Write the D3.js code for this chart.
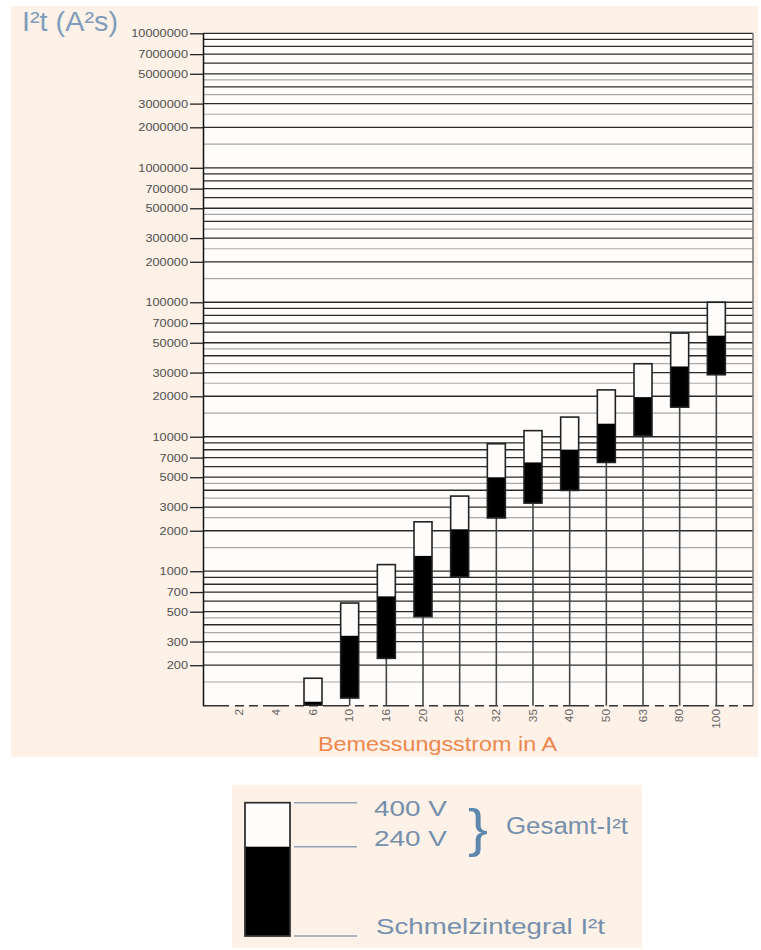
<!DOCTYPE html>
<html><head><meta charset="utf-8">
<script src="https://cdn.jsdelivr.net/npm/d3@7"></script>
<style>body{margin:0;background:#fff}</style>
</head><body>
<svg id="c" width="761" height="950"></svg>
<script>
// ---- data ----
const categories = ["2","4","6","10","16","20","25","32","35","40","50","63","80","100"];
const melt     = [null,null,101,114,225,459,910,2490,3210,3990,6440,10200,16600,28900];   // Schmelzintegral I²t
const total240 = [null,null,107,331,650,1300,2050,4980,6440,8000,12500,19700,33300,56400]; // Gesamt-I²t 240 V
const total400 = [null,null,160,580,1120,2330,3620,8870,11100,14000,22300,34900,59000,100000]; // Gesamt-I²t 400 V
const yTickValues = [1e7,7e6,5e6,3e6,2e6,1e6,7e5,5e5,3e5,2e5,1e5,7e4,5e4,3e4,2e4,1e4,7000,5000,3000,2000,1000,700,500,300,200];
const gridMultipliers = [1,1.5,2,2.5,3,3.5,4,4.5,5,6,7,8,9];

const svg = d3.select("#c");
const L = 203, R = 753, T = 33.3, B = 705.7;
const peach = "#fdf1e8";

// panels
svg.append("rect").attr("x",11).attr("y",6).attr("width",747).attr("height",751).attr("fill",peach);
svg.append("rect").attr("x",232).attr("y",785).attr("width",410).attr("height",163).attr("fill",peach);
svg.append("rect").attr("x",L).attr("y",T).attr("width",R-L).attr("height",B-T).attr("fill","#fffdfb");

const y = d3.scaleLog().domain([100,1e7]).range([B,T]);
const x = d3.scalePoint().domain(categories).range([L,R]).padding(1);

// gridlines
const grid = [];
for (let k = 2; k <= 6; k++) gridMultipliers.forEach(m => { const v = m*Math.pow(10,k); if (v > 100) grid.push({v, major: Number.isInteger(m)}); });
grid.push({v:1e7, major:true});
svg.append("g").selectAll("line").data(grid).join("line")
  .attr("x1",L).attr("x2",R)
  .attr("y1",d=>y(d.v)).attr("y2",d=>y(d.v))
  .attr("stroke",d=>d.major?"#2a2a2a":"#a8a8a8")
  .attr("stroke-width",d=>d.major?1.3:1.2);

// right border
svg.append("line").attr("x1",R).attr("x2",R).attr("y1",T).attr("y2",B).attr("stroke","#777").attr("stroke-width",1.5);

// y axis
const yAxis = d3.axisLeft(y).tickValues(yTickValues).tickSize(13).tickSizeOuter(0).tickFormat(d3.format("d"));
const gy = svg.append("g").attr("transform",`translate(${L},0)`).call(yAxis);
gy.select(".domain").attr("stroke","#111").attr("stroke-width",1.5);
gy.selectAll(".tick line").attr("stroke","#222").attr("stroke-width",1.3);
gy.selectAll(".tick text")
  .attr("font-family","Liberation Sans, Arial, sans-serif").attr("font-size",10.5)
  .attr("fill","#505050").attr("x",-15).attr("dy","0.35em")
  .attr("lengthAdjust","spacingAndGlyphs")
  .attr("textLength",function(){ return this.textContent.length*7.1; });

// bottom axis (dashed)
svg.append("line").attr("x1",L).attr("x2",R).attr("y1",B).attr("y2",B)
  .attr("stroke","#333").attr("stroke-width",1.6).attr("stroke-dasharray","26,6,9,5,9,5");

const idx = categories.map((c,i)=>i);
// vertical stems from bar bottom to axis
svg.append("g").selectAll("line").data(idx.filter(i=>melt[i]!=null)).join("line")
  .attr("x1",i=>x(categories[i])).attr("x2",i=>x(categories[i]))
  .attr("y1",i=>y(melt[i])).attr("y2",B)
  .attr("stroke","#444").attr("stroke-width",1.6);

// x tick labels
svg.append("g").selectAll("text").data(categories).join("text")
  .attr("transform",d=>`translate(${x(d)+3.5},709) rotate(-90)`)
  .attr("text-anchor","end")
  .attr("font-family","Liberation Sans, Arial, sans-serif").attr("font-size",10)
  .attr("fill","#666")
  .attr("lengthAdjust","spacingAndGlyphs")
  .attr("textLength",d=>d.length*6.6)
  .text(d=>d);

// bars
const bw = 18;
const bars = svg.append("g").selectAll("g").data(idx.filter(i=>melt[i]!=null)).join("g");
bars.append("rect").attr("x",i=>x(categories[i])-bw/2).attr("width",bw)
  .attr("y",i=>y(total400[i])).attr("height",i=>y(total240[i])-y(total400[i])).attr("fill","#fffdfb");
bars.append("rect").attr("x",i=>x(categories[i])-bw/2).attr("width",bw)
  .attr("y",i=>y(total240[i])).attr("height",i=>y(melt[i])-y(total240[i])).attr("fill","#000");
bars.append("rect").attr("x",i=>x(categories[i])-bw/2).attr("width",bw)
  .attr("y",i=>y(total400[i])).attr("height",i=>y(melt[i])-y(total400[i]))
  .attr("fill","none").attr("stroke","#222").attr("stroke-width",1.6);

// titles
svg.append("text").attr("x",22).attr("y",31)
  .attr("font-family","Liberation Sans, Arial, sans-serif").attr("font-size",27)
  .attr("fill","#7f9dba").attr("lengthAdjust","spacingAndGlyphs").attr("textLength",96)
  .text("I²t (A²s)");
svg.append("text").attr("x",318).attr("y",751)
  .attr("font-family","Liberation Sans, Arial, sans-serif").attr("font-size",21)
  .attr("fill","#ee874c").attr("lengthAdjust","spacingAndGlyphs").attr("textLength",239)
  .text("Bemessungsstrom in A");

// legend
const lg = svg.append("g");
const lTop = 802.7, lMid = 846.7, lBot = 936;
lg.append("rect").attr("x",245).attr("y",lTop).attr("width",45).attr("height",lMid-lTop).attr("fill","#fffdfb");
lg.append("rect").attr("x",245).attr("y",lMid).attr("width",45).attr("height",lBot-lMid).attr("fill","#000");
lg.append("rect").attr("x",245).attr("y",lTop).attr("width",45).attr("height",lBot-lTop)
  .attr("fill","none").attr("stroke","#333").attr("stroke-width",1.8);
[lTop,lMid,lBot].forEach(v=>lg.append("line").attr("x1",294).attr("x2",357).attr("y1",v).attr("y2",v)
  .attr("stroke","#8fa4b8").attr("stroke-width",1.5));
const lt = (t,xx,yy,w,fs)=>lg.append("text").attr("x",xx).attr("y",yy)
  .attr("font-family","Liberation Sans, Arial, sans-serif").attr("font-size",fs)
  .attr("fill","#7590ab").attr("lengthAdjust","spacingAndGlyphs").attr("textLength",w).text(t);
lt("400 V",374,816,73,22);
lt("240 V",374,846,73,22);
lt("Gesamt-I²t",506,834,122,23);
lt("Schmelzintegral I²t",376,934,229,22);
lg.append("text").attr("x",468).attr("y",846)
  .attr("font-family","Liberation Sans, Arial, sans-serif").attr("font-size",52)
  .attr("fill","#5f86ad").text("}")
  .attr("lengthAdjust","spacingAndGlyphs").attr("textLength",20);
</script>
</body></html>
